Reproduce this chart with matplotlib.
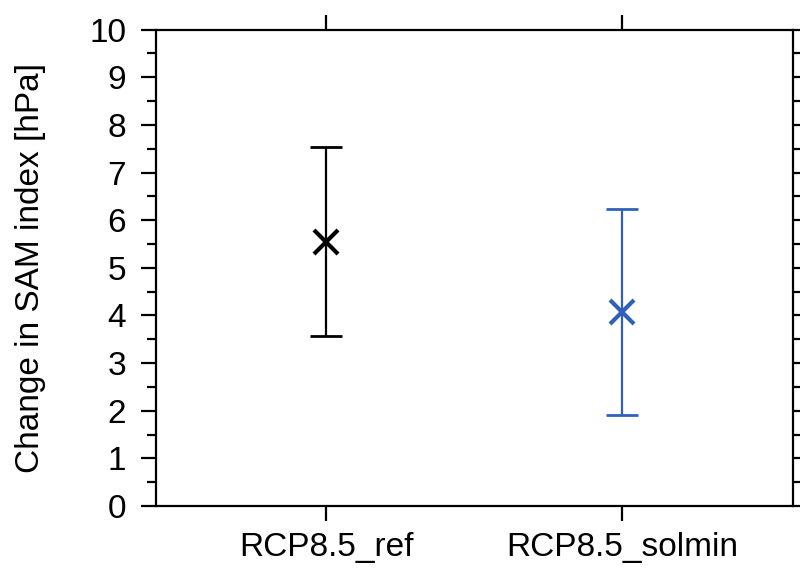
import matplotlib
matplotlib.use("Agg")
import matplotlib.pyplot as plt
from matplotlib.ticker import MultipleLocator

categories = ["RCP8.5_ref", "RCP8.5_solmin"]
means = [5.55, 4.07]
lower = [3.57, 1.90]
upper = [7.53, 6.23]
colors = ["black", "#2f62b6"]
ylabel = "Change in SAM index [hPa]"

plt.rcParams['font.family'] = ['Liberation Sans', 'DejaVu Sans']

fig = plt.figure(figsize=(8, 5.7), dpi=100)
ax = fig.add_axes([0.195, 0.1123, 0.991 - 0.195, 0.948 - 0.1123])

xs = list(range(1, len(categories) + 1))
for x, m, lo, hi, c in zip(xs, means, lower, upper, colors):
    ax.errorbar([x], [m], yerr=[[m - lo], [hi - m]], fmt='none', ecolor=c,
                elinewidth=1.6, capsize=11.5, capthick=2.0)
    ax.plot([x], [m], marker='x', color=c, markersize=17, mew=3.0, linestyle='none')

ax.set_xlim(1 - 0.575, 2 + 0.575)
ax.set_ylim(0, 10)
ax.set_xticks(xs)
ax.set_xticklabels(categories)
ax.yaxis.set_major_locator(MultipleLocator(1))
ax.yaxis.set_minor_locator(MultipleLocator(0.5))
ax.tick_params(axis='y', which='major', direction='out', length=11, width=1.6,
               labelsize=24, pad=10.5, right=True)
ax.tick_params(axis='y', which='minor', direction='out', length=6.5, width=1.6, right=True)
ax.tick_params(axis='x', which='major', direction='out', length=11, width=1.6,
               labelsize=24, pad=8, top=True)
for s in ax.spines.values():
    s.set_linewidth(1.6)

fig.text(31 / 800, 1 - 268 / 570, ylabel, rotation=90, fontsize=24, ha='center', va='center')

fig.savefig("out.png", dpi=100)
